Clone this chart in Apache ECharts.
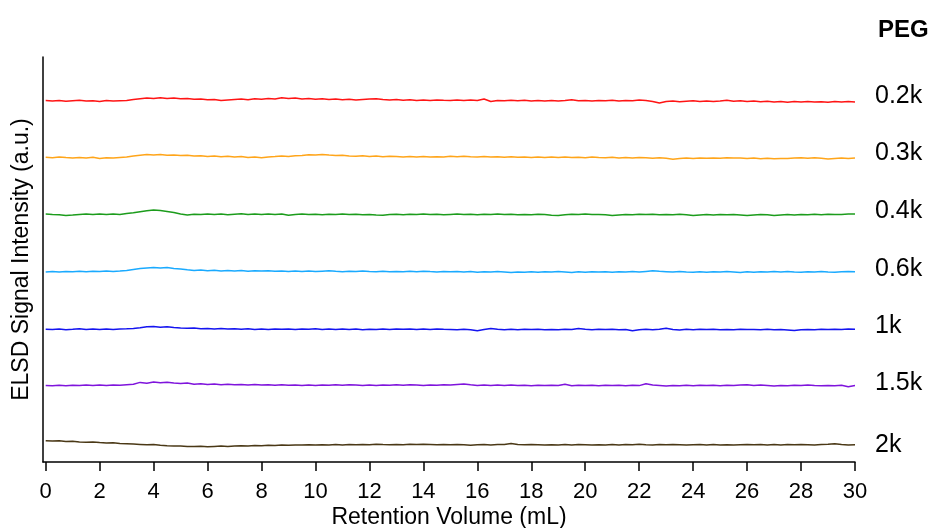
<!DOCTYPE html>
<html>
<head>
<meta charset="utf-8">
<script src="https://cdn.jsdelivr.net/npm/echarts@6/dist/echarts.min.js"></script>
<style>
html,body{margin:0;padding:0;background:#fff;}
#chart{width:935px;height:528px;}
</style>
</head>
<body>
<div id="chart"></div>
<script>
// Retention volume sampling (mL), one reading every 0.25 mL from 0 to 30
const volumeStep = 0.25;
const xTicks = [0,2,4,6,8,10,12,14,16,18,20,22,24,26,28,30];
const seriesNames = ['0.2k','0.3k','0.4k','0.6k','1k','1.5k','2k'];
const legendTitle = 'PEG';

// ELSD signal (a.u., stacked offsets as plotted)
const peg02k = [361.4,361.0,361.6,360.7,361.3,361.8,360.9,361.2,360.6,361.5,361.0,361.3,
361.6,362.4,363.2,364.0,363.4,364.3,363.6,363.9,
363.2,363.6,362.8,363.1,362.2,362.6,361.4,362.0,
362.5,362.9,362.3,363.2,362.7,363.4,363.0,364.2,
363.6,363.9,363.1,363.5,362.8,363.3,362.4,362.9,
362.2,362.7,361.9,362.5,362.9,363.3,362.6,362.1,
362.4,361.8,362.3,361.6,362.1,361.5,362.0,361.7,
361.5,362.1,361.6,362.0,361.4,363.0,360.5,361.6,
361.2,361.8,361.3,361.7,360.9,361.5,361.1,361.6,
361.0,361.4,362.2,361.2,361.6,360.9,361.5,361.3,
361.8,361.1,361.6,361.2,362.0,361.5,360.6,358.9,
360.4,360.9,360.3,360.8,361.2,360.6,360.9,360.4,
361.0,361.7,360.8,361.2,360.5,360.9,360.3,360.7,
360.1,360.6,359.8,360.4,359.9,360.5,360.0,360.3,
359.7,360.6,360.0,360.4,359.9];

const peg03k = [304.8,304.2,304.9,304.4,304.0,304.6,304.1,304.7,303.6,304.3,304.0,304.5,
305.0,305.9,306.8,307.4,306.9,307.5,306.8,307.1,
306.4,306.8,305.9,306.3,305.6,306.0,305.2,305.7,
304.9,305.4,304.6,305.1,304.3,305.0,305.4,305.9,
305.6,306.2,306.6,307.3,306.9,307.6,307.0,306.5,
306.8,306.1,305.7,306.2,305.5,305.9,305.3,305.8,
305.4,305.0,305.6,305.1,305.5,304.9,305.3,305.0,
305.7,305.2,305.8,305.3,304.9,305.4,305.0,305.3,
304.8,305.2,304.7,305.1,304.6,305.0,304.5,304.9,
304.6,305.0,304.4,304.8,304.3,304.9,304.5,304.2,
304.7,304.1,304.5,304.0,304.6,304.2,303.8,304.3,
303.7,302.7,303.5,303.9,303.6,304.1,303.7,304.0,
303.8,304.3,303.9,304.1,303.5,303.9,303.3,303.7,
303.2,303.6,303.4,303.9,304.2,303.8,304.3,303.7,
303.1,303.6,303.9,303.4,304.0];

const peg04k = [248.1,247.6,247.2,246.6,246.9,247.4,247.9,247.5,248.0,247.6,247.9,247.5,
248.4,249.2,250.3,251.2,251.9,251.4,250.6,249.6,
248.0,247.1,247.8,247.4,248.0,247.5,247.9,247.3,
247.8,248.2,247.5,247.9,247.4,248.1,247.6,248.0,
246.8,247.6,247.9,247.4,247.8,247.3,247.7,247.4,
247.9,247.5,247.8,247.2,247.6,247.0,246.7,247.4,
247.8,247.3,247.7,247.4,247.9,247.5,247.8,247.3,
247.6,247.9,247.4,247.8,247.3,247.7,247.5,247.9,
247.4,247.8,247.3,247.6,247.2,247.7,247.4,246.8,
246.6,247.3,247.8,247.4,247.9,247.5,247.6,247.2,
246.5,247.1,247.6,247.3,247.8,247.4,247.7,247.2,
247.6,247.2,247.7,247.3,246.5,247.0,247.5,247.1,
247.6,247.2,247.5,247.0,246.4,247.1,247.6,247.2,
246.4,246.9,247.4,247.1,247.6,247.2,247.7,247.3,
247.8,247.4,247.6,247.9,248.1];

const peg06k = [189.9,190.4,190.0,190.6,190.2,190.7,190.3,190.8,190.4,190.9,190.5,191.0,
191.6,192.5,193.4,194.0,194.5,193.9,194.4,193.6,
193.0,192.2,191.6,191.9,191.3,191.7,191.1,191.5,
191.0,191.4,190.8,191.3,190.9,191.2,190.7,191.1,
190.6,191.0,190.5,190.9,190.4,190.8,191.2,190.7,
190.3,190.8,190.4,190.9,190.5,190.2,190.7,190.3,
190.6,190.2,190.7,190.3,190.8,190.4,190.1,190.5,
190.2,190.5,190.0,190.4,189.8,190.3,189.9,190.4,
190.0,189.5,190.1,189.7,190.2,189.8,190.3,189.9,
190.4,190.0,189.6,190.2,189.8,190.3,189.9,190.2,
189.8,190.3,189.9,190.4,190.0,190.6,191.2,190.7,
190.3,189.9,190.4,190.0,189.7,190.2,189.8,190.3,
189.9,190.4,190.0,189.6,190.2,189.8,190.3,189.9,
190.4,190.0,190.6,190.1,189.8,190.3,189.9,190.4,
190.0,189.7,190.2,190.5,190.3];

const peg1k = [132.8,132.4,132.9,132.3,132.7,133.3,132.6,132.9,132.5,133.0,132.6,132.9,
133.2,133.6,134.2,135.3,135.6,134.8,135.2,134.6,
134.1,133.7,134.0,133.2,133.6,132.9,133.4,133.0,
133.3,132.8,133.2,132.4,133.0,132.6,133.1,132.7,
133.0,132.5,133.1,132.7,133.2,132.4,132.9,132.6,
133.0,132.5,132.9,132.3,132.8,132.4,132.9,132.6,
133.1,132.7,133.0,132.5,132.9,132.6,133.0,132.7,
132.6,132.2,132.7,132.3,131.2,132.4,133.6,132.8,
132.2,132.7,132.3,132.8,132.4,132.7,132.3,132.6,
132.2,132.7,132.4,133.6,132.8,132.3,132.7,132.4,
132.8,132.3,132.6,131.3,132.2,132.7,132.3,132.8,
133.8,132.5,132.1,132.7,132.3,132.8,132.4,132.7,
132.2,132.6,132.3,132.8,132.4,132.6,132.2,132.7,
132.3,132.6,132.1,131.4,132.2,132.6,132.3,132.7,
132.4,132.8,132.5,132.9,132.7];

const peg15k = [76.6,76.2,76.7,76.3,76.8,76.4,76.9,76.5,77.0,76.6,77.1,76.8,
77.3,77.8,79.6,78.8,80.0,79.2,79.8,79.0,
78.4,78.9,77.8,78.3,77.6,78.0,77.3,77.7,
77.2,77.6,77.0,77.5,76.9,77.3,76.8,77.2,
76.7,77.1,76.6,77.0,76.5,77.0,76.7,77.2,
76.8,77.3,76.9,76.4,77.0,76.6,77.1,76.7,
77.2,76.8,77.3,76.9,76.5,77.0,76.7,77.2,
77.0,77.5,78.0,77.2,76.6,77.0,76.5,76.9,
76.5,76.9,76.4,76.8,76.3,76.7,76.4,76.8,
76.5,77.7,76.3,76.8,76.4,76.8,76.3,76.7,
76.4,76.8,76.3,76.7,76.4,78.3,76.9,76.5,
76.1,76.6,76.2,76.7,76.3,76.8,76.4,76.7,
76.3,76.8,76.5,76.9,77.2,76.6,76.9,76.5,
76.1,76.6,76.3,76.8,76.4,76.9,76.5,76.2,
76.6,76.3,76.7,75.3,76.6];

const peg2k = [21.3,21.0,21.2,20.5,20.7,20.1,19.8,20.0,19.4,19.0,19.2,18.6,
18.3,18.0,17.6,17.2,17.4,16.8,16.3,16.0,
15.9,15.6,15.4,15.8,15.3,15.6,15.9,15.5,
16.0,16.3,16.1,16.5,16.3,16.8,16.6,16.9,
16.7,17.1,16.9,17.2,16.9,17.3,17.0,17.4,
17.1,17.5,17.2,17.6,17.3,17.7,17.4,17.2,
17.6,17.3,17.7,17.4,17.8,17.5,17.2,17.6,
17.2,17.6,17.3,16.8,17.2,17.5,17.1,17.4,
17.6,18.4,17.5,17.2,17.6,17.3,16.9,17.3,
17.0,17.4,17.1,17.5,17.2,16.9,17.3,17.0,
17.4,17.1,17.6,17.2,17.8,17.3,17.1,17.5,
17.2,17.6,17.3,16.9,17.2,17.5,17.1,17.4,
17.0,17.3,16.9,17.3,17.6,17.2,17.5,17.1,
17.4,17.1,17.5,17.2,17.6,17.3,17.0,17.4,
17.7,18.3,17.4,17.0,17.3];

const allSignals = [peg02k, peg03k, peg04k, peg06k, peg1k, peg15k, peg2k];
const colors = ['#ff1414','#ffa51a','#1c9c1c','#1aaaff','#1414f0','#7f14dc','#4a3816'];
const labelShift = [-6,-5,-3,-3,-3,-2,0];

const FONT = '"Liberation Sans", Arial, Helvetica, sans-serif';

const chart = echarts.init(document.getElementById('chart'), null, {renderer:'canvas'});

const series = allSignals.map((sig, k) => ({
  name: seriesNames[k],
  type: 'line',
  showSymbol: false,
  symbol: 'none',
  animation: false,
  lineStyle: {color: colors[k], width: 1.5},
  itemStyle: {color: colors[k]},
  data: sig.map((v, i) => [i * volumeStep, v]),
  endLabel: {
    show: true,
    formatter: seriesNames[k],
    color: '#000',
    fontFamily: FONT,
    fontSize: 25,
    distance: 20,
    offset: [0, labelShift[k]]
  }
}));

chart.setOption({
  animation: false,
  backgroundColor: '#fff',
  title: {
    text: legendTitle,
    left: 873,
    top: 13,
    textStyle: {fontFamily: FONT, fontSize: 24, fontWeight: 'bold', color: '#000'}
  },
  grid: {left: 43, right: 80, top: 57, bottom: 66, containLabel: false, outerBoundsMode: 'none'},
  xAxis: {
    type: 'value',
    min: -0.1,
    max: 30,
    name: 'Retention Volume (mL)',
    nameLocation: 'middle',
    nameGap: 44,
    nameMoveOverlap: false,
    nameTextStyle: {fontFamily: FONT, fontSize: 23, color: '#000'},
    axisLine: {show: true, onZero: false, lineStyle: {color: '#000', width: 1.5}},
    axisTick: {show: true, inside: false, length: 9, customValues: xTicks, lineStyle: {color: '#000', width: 1.5}},
    axisLabel: {show: true, customValues: xTicks, margin: 19, fontFamily: FONT, fontSize: 22, color: '#000'},
    splitLine: {show: false}
  },
  yAxis: {
    type: 'value',
    min: 0,
    max: 405,
    name: 'ELSD Signal Intensity (a.u.)',
    nameLocation: 'middle',
    nameGap: 10,
    nameMoveOverlap: false,
    nameTextStyle: {fontFamily: FONT, fontSize: 23, color: '#000'},
    axisLine: {show: true, onZero: false, lineStyle: {color: '#000', width: 1.5}},
    axisTick: {show: false},
    axisLabel: {show: false},
    splitLine: {show: false}
  },
  series: series
});
</script>
</body>
</html>
